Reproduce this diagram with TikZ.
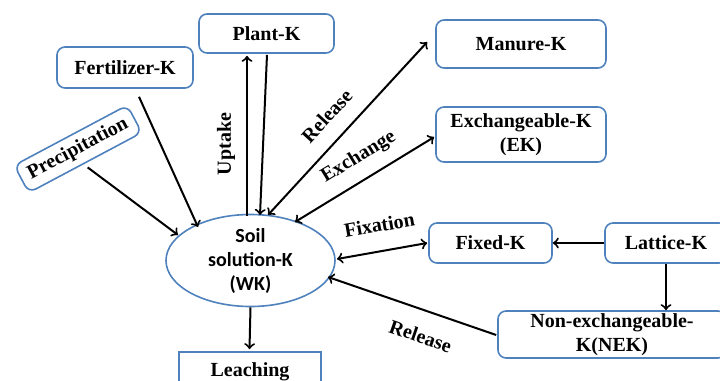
\documentclass[tikz,border=0pt]{standalone}
\usepackage{fontspec}
\setmainfont{Liberation Serif}
\newfontfamily\soilfont{Carlito}
\usetikzlibrary{shapes.geometric}
\definecolor{boxblue}{RGB}{79,129,189}

\begin{document}
\begin{tikzpicture}[x=0.5pt, y=-0.5pt,
  pool/.style={draw=boxblue, line width=0.8pt, rounded corners=4pt, font=\bfseries, align=center, inner sep=0pt},
  lbl/.style={font=\bfseries, inner sep=1pt},
  flow/.style={line width=1pt}]
\useasboundingbox (0,0) rectangle (720,381);
\clip (0,0) rectangle (720,381);

\node[pool, minimum width=67.5pt, minimum height=19.5pt] (plant) at (266.5,33.5) {Plant-K};
\node[pool, minimum width=68pt, minimum height=20.5pt] (fert) at (125,67.5) {Fertilizer-K};
\node[pool, minimum width=64pt, minimum height=15.5pt, rotate=28] (precip) at (78,149) {Precipitation};
\node[pool, minimum width=85pt, minimum height=24pt] (manure) at (521,44) {Manure-K};
\node[pool, minimum width=85pt, minimum height=27.5pt] (exch) at (521,134.5) {Exchangeable-K\\(EK)};
\node[draw=boxblue, line width=0.8pt, ellipse, minimum width=84.5pt, minimum height=37.5pt, inner sep=0pt,
  align=center, font=\soilfont\bfseries] (soil) at (250.5,260.5) {Soil\\solution-K\\(WK)};
\node[pool, rounded corners=0pt, minimum width=71pt, minimum height=20pt] (leach) at (250,372) {Leaching};
\node[pool, minimum width=61.5pt, minimum height=20pt] (fixed) at (490.5,243) {Fixed-K};
\node[pool, minimum width=61pt, minimum height=20pt] (lattice) at (666,243) {Lattice-K};
\node[pool, minimum width=114pt, minimum height=23.5pt] (nek) at (612,334.5) {Non-exchangeable-\\K(NEK)};

% inputs
\draw[flow, ->] ([shift={(14,8)}]fert.south) -- ([shift={(-52.5,-33.5)}]soil.center);
\draw[flow, ->] ([shift={(2,4)}]precip.south) -- ([shift={(-72.5,-25.5)}]soil.center);
% plant
\draw[flow, ->] ([shift={(-3.5,-44.5)}]soil.center) to node[lbl, sloped, above=4.4pt, pos=0.45] {Uptake} ([shift={(-19.5,2)}]plant.south);
\draw[flow, ->] ([shift={(0.5,1)}]plant.south) -- ([shift={(9.5,-45.5)}]soil.center);
% exchanges
\draw[flow, <->] ([shift={(17.5,-45.5)}]soil.center) to node[lbl, sloped, above=6.9pt, pos=0.48] {Release} ([shift={(-8,-2)}]manure.west);
\draw[flow, <->] ([shift={(44.5,-38.5)}]soil.center) to node[lbl, sloped, above=5pt, pos=0.54] {Exchange} ([shift={(-1,2.5)}]exch.west);
\draw[flow, <->] ([shift={(86.5,-1.5)}]soil.center) to node[lbl, sloped, above=8.1pt, pos=0.52] {Fixation} ([shift={(-1,0)}]fixed.west);
\draw[flow, ->] (lattice.west) -- (fixed.east);
\draw[flow, ->] (lattice.south) -- (lattice.south |- nek.north);
\draw[flow, <-] ([shift={(77.5,16.5)}]soil.center) to node[lbl, sloped, below=7.8pt, pos=0.6] {Release} ([shift={(-1,0.5)}]nek.west);
% loss
\draw[flow, ->] (soil.south) -- ([shift={(-0.5,-2)}]leach.north);
\end{tikzpicture}
\end{document}
